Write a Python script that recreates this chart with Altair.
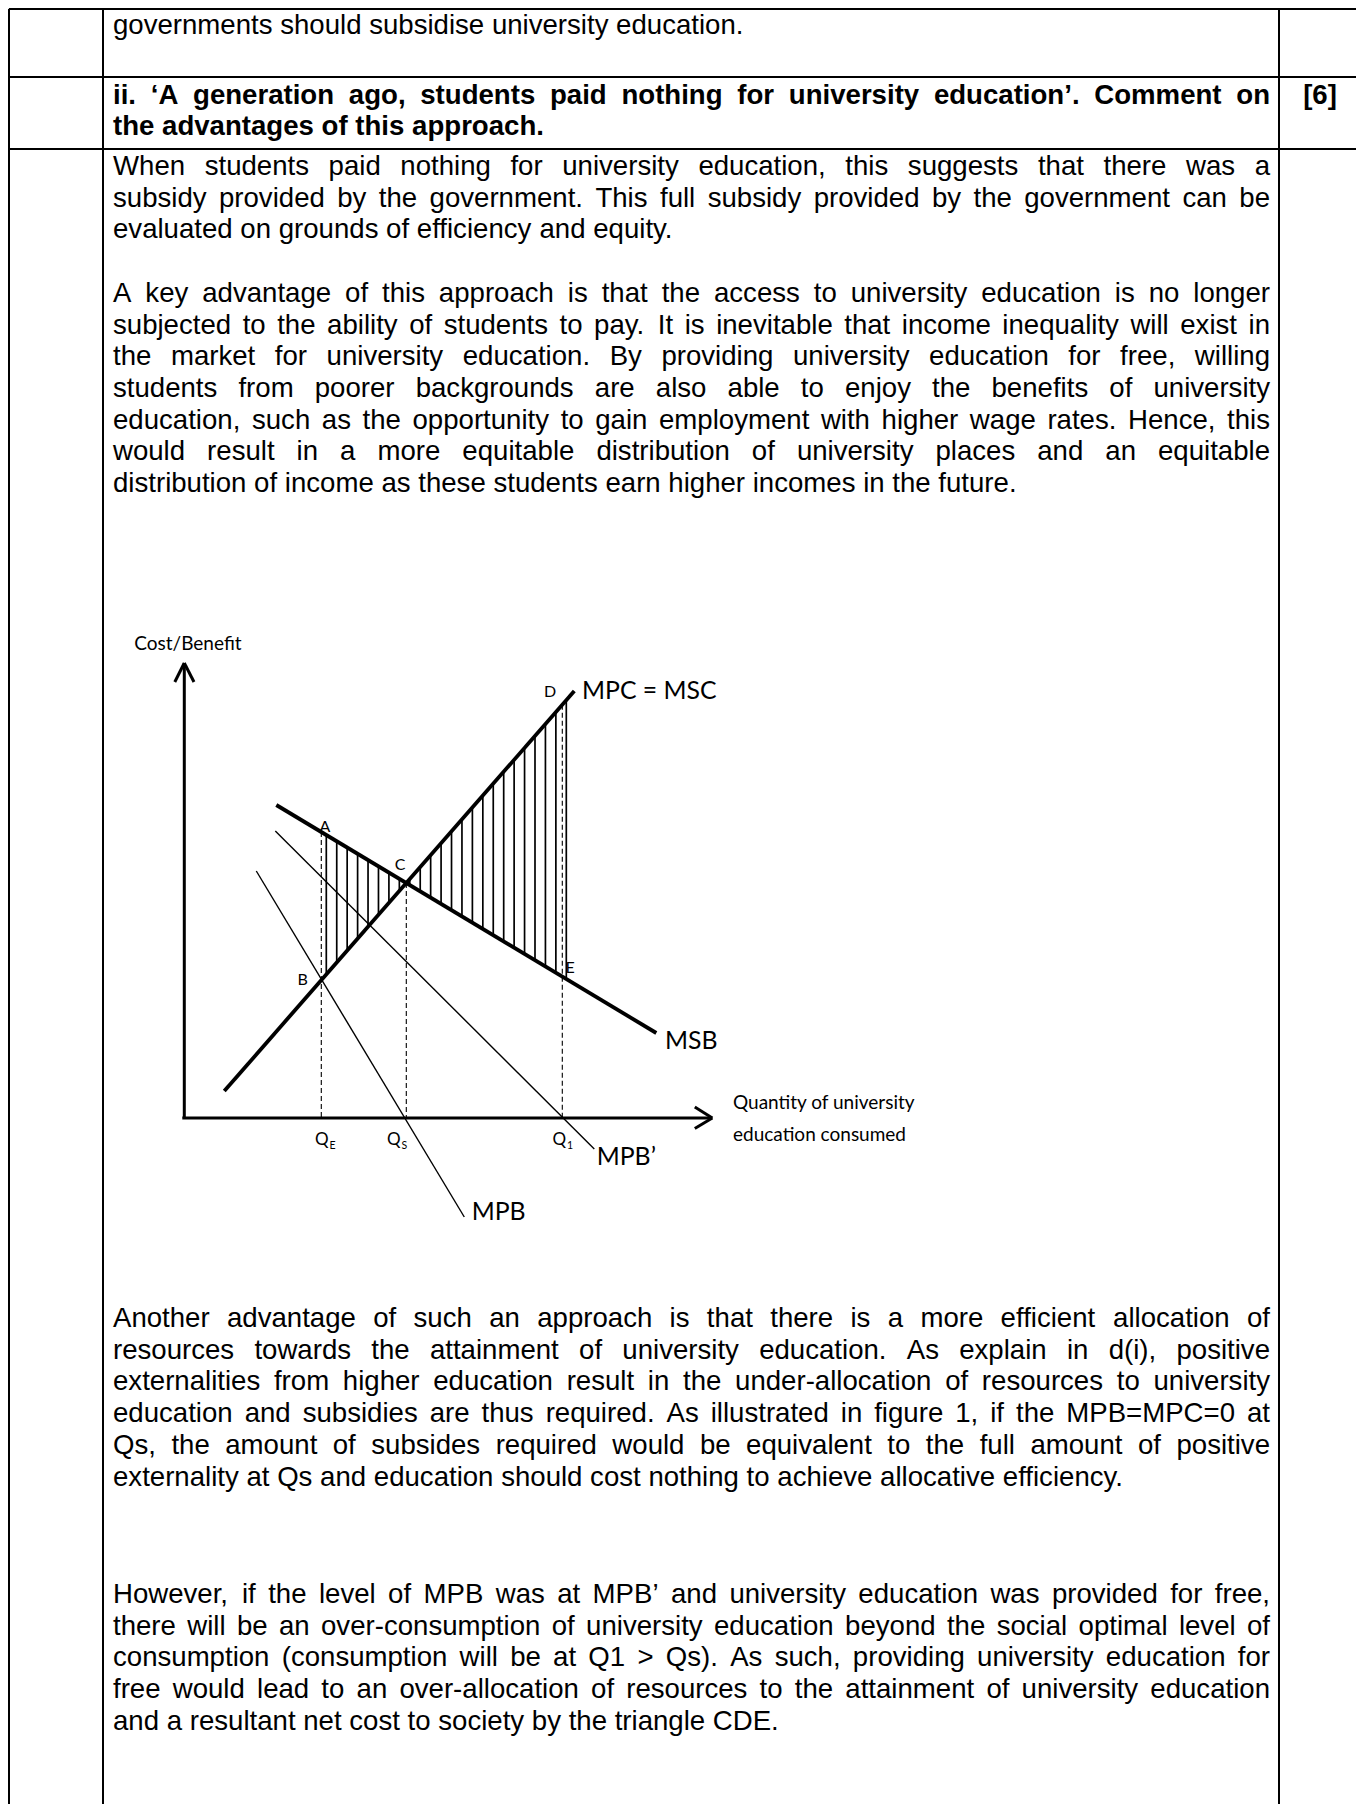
import altair as alt
import pandas as pd

# ---------------- document text ----------------
ROW1_LINES = ["governments should subsidise university education."]
QUESTION_LINES = [
    "ii. \u2018A generation ago, students paid nothing for university education\u2019. Comment on",
    "the advantages of this approach.",
]
MARK_LABEL = ["[6]"]
PARA1_LINES = [
    "When students paid nothing for university education, this suggests that there was a",
    "subsidy provided by the government. This full subsidy provided by the government can be",
    "evaluated on grounds of efficiency and equity.",
]
PARA2_LINES = [
    "A key advantage of this approach is that the access to university education is no longer",
    "subjected to the ability of students to pay. It is inevitable that income inequality will exist in",
    "the market for university education. By providing university education for free, willing",
    "students from poorer backgrounds are also able to enjoy the benefits of university",
    "education, such as the opportunity to gain employment with higher wage rates. Hence, this",
    "would result in a more equitable distribution of university places and an equitable",
    "distribution of income as these students earn higher incomes in the future.",
]
PARA3_LINES = [
    "Another advantage of such an approach is that there is a more efficient allocation of",
    "resources towards the attainment of university education. As explain in d(i), positive",
    "externalities from higher education result in the under-allocation of resources to university",
    "education and subsidies are thus required. As illustrated in figure 1, if the MPB=MPC=0 at",
    "Qs, the amount of subsides required would be equivalent to the full amount of positive",
    "externality at Qs and education should cost nothing to achieve allocative efficiency.",
]
PARA4_LINES = [
    "However, if the level of MPB was at MPB\u2019 and university education was provided for free,",
    "there will be an over-consumption of university education beyond the social optimal level of",
    "consumption (consumption will be at Q1 > Qs). As such, providing university education for",
    "free would lead to an over-allocation of resources to the attainment of university education",
    "and a resultant net cost to society by the triangle CDE.",
]

# ---------------- diagram values (1 unit = 10 px, origin at axes crossing) ----------------
CURVE_NAMES = ["MSB", "MPC", "MPB'", "MPB"]
CURVE_Q_START = [9.2, 4.0, 9.1, 7.2]
CURVE_P_START = [31.3, 2.7, 28.7, 24.7]
CURVE_Q_END = [47.2, 39.0, 41.0, 28.0]
CURVE_P_END = [8.5, 42.7, -3.1, -9.9]
Q_VALUES = [13.7, 22.2, 37.8]          # Q_E, Q_S, Q_1
AXIS_Q_END = 52.8
AXIS_P_END = 45.5

POINT_LABELS = ["A", "B", "C", "D", "E"]
POINT_LABEL_Q = [14.07, 11.84, 21.57, 36.57, 38.57]
POINT_LABEL_P = [29.1, 13.8, 25.3, 42.6, 15.0]

CURVE_LABELS = ["MPC = MSC", "MSB", "MPB", "MPB\u2019"]
CURVE_LABEL_Q = [39.77, 48.07, 28.74, 41.24]
CURVE_LABEL_P = [42.6, 7.6, -9.5, -4.0]

AXIS_LABELS = ["Cost/Benefit", "Quantity of university", "education consumed"]
AXIS_LABEL_Q = [-5.0, 54.87, 54.87]
AXIS_LABEL_P = [47.4, 1.5, -1.7]

Q_TICK_MAIN = ["Q", "Q", "Q"]
Q_TICK_SUB = ["E", "S", "1"]
Q_TICK_LABEL_Q = [13.07, 20.27, 36.82]

# ---------------- layout constants ----------------
OFF = 8
PAGE_W, PAGE_H = 1348, 1796
FS = 27.6
LH = 31.7

REG_W = {' ': 278, '!': 278, '"': 355, '#': 556, '$': 556, '%': 889, '&': 667, "'": 191,
         '(': 333, ')': 333, '*': 389, '+': 584, ',': 278, '-': 333, '.': 278, '/': 278,
         ':': 278, ';': 278, '<': 584, '=': 584, '>': 584, '?': 556, '@': 1015,
         'A': 667, 'B': 667, 'C': 722, 'D': 722, 'E': 667, 'F': 611, 'G': 778, 'H': 722,
         'I': 278, 'J': 500, 'K': 667, 'L': 556, 'M': 833, 'N': 722, 'O': 778, 'P': 667,
         'Q': 778, 'R': 722, 'S': 667, 'T': 611, 'U': 722, 'V': 667, 'W': 944, 'X': 667,
         'Y': 667, 'Z': 611, '[': 278, ']': 278,
         'a': 556, 'b': 556, 'c': 500, 'd': 556, 'e': 556, 'f': 278, 'g': 556, 'h': 556,
         'i': 222, 'j': 222, 'k': 500, 'l': 222, 'm': 833, 'n': 556, 'o': 556, 'p': 556,
         'q': 556, 'r': 333, 's': 500, 't': 278, 'u': 556, 'v': 500, 'w': 722, 'x': 500,
         'y': 500, 'z': 500, '\u2018': 222, '\u2019': 222}
for _d in "0123456789":
    REG_W[_d] = 556
BOLD_W = {' ': 278, ',': 278, '.': 278, '-': 333, "'": 238, '[': 333, ']': 333,
          'A': 722, 'B': 722, 'C': 722, 'D': 722, 'E': 667, 'I': 278, 'M': 833, 'P': 667,
          'a': 556, 'b': 611, 'c': 556, 'd': 611, 'e': 556, 'f': 333, 'g': 611, 'h': 611,
          'i': 278, 'j': 278, 'k': 556, 'l': 278, 'm': 889, 'n': 611, 'o': 611, 'p': 611,
          'q': 611, 'r': 389, 's': 556, 't': 333, 'u': 611, 'v': 556, 'w': 778, 'x': 556,
          'y': 556, 'z': 500, '\u2018': 278, '\u2019': 278}
for _d in "0123456789":
    BOLD_W[_d] = 556


def em_width(s, table):
    return sum(table.get(c, 556) for c in s) / 1000.0


def layout(lines, x0, x1, y0, table, fs=FS, lh=LH):
    rows = []
    sp = table[' '] / 1000.0 * fs
    for i, line in enumerate(lines):
        words = line.split(' ')
        widths = [em_width(w, table) * fs for w in words]
        last = i == len(lines) - 1
        if not last and len(words) > 1:
            gap = max((x1 - x0 - sum(widths)) / (len(words) - 1), 2.0)
        else:
            gap = sp
        x = x0
        for w, wd in zip(words, widths):
            rows.append({'x': x, 'y': y0 + i * lh, 't': w})
            x += wd + gap
    return rows


X_LEFT, X_RIGHT = 113, 1270

reg_rows = []
reg_rows += layout(ROW1_LINES, X_LEFT, X_RIGHT, 34, REG_W)
reg_rows += layout(PARA1_LINES, X_LEFT, X_RIGHT, 175, REG_W)
reg_rows += layout(PARA2_LINES, X_LEFT, X_RIGHT, 175 + 4 * LH, REG_W)
reg_rows += layout(PARA3_LINES, X_LEFT, X_RIGHT, 1327, REG_W)
reg_rows += layout(PARA4_LINES, X_LEFT, X_RIGHT, 1603, REG_W)
bold_rows = layout(QUESTION_LINES, X_LEFT, X_RIGHT, 103.5, BOLD_W)
mark_rows = [{'x': 1320, 'y': 103.5, 't': MARK_LABEL[0]}]

# ---------------- scales ----------------
xs = alt.Scale(domain=[OFF, OFF + PAGE_W], nice=False, zero=False)
ys = alt.Scale(domain=[OFF, OFF + PAGE_H], nice=False, zero=False, reverse=True)
PX0, PY0, UNIT = 184.3, 1118.0, 10.0
xd = alt.Scale(domain=[(OFF - PX0) / UNIT, (OFF + PAGE_W - PX0) / UNIT], nice=False, zero=False)
yd = alt.Scale(domain=[(PY0 - OFF - PAGE_H) / UNIT, (PY0 - OFF) / UNIT], nice=False, zero=False)


def seg(df, sx, sy, **mk):
    return alt.Chart(pd.DataFrame(df)).mark_rule(**mk).encode(
        x=alt.X('x:Q', scale=sx, axis=None), x2='x2:Q',
        y=alt.Y('y:Q', scale=sy, axis=None), y2='y2:Q')


def txt(df, sx, sy, **mk):
    return alt.Chart(pd.DataFrame(df)).mark_text(**mk).encode(
        x=alt.X('x:Q', scale=sx, axis=None),
        y=alt.Y('y:Q', scale=sy, axis=None),
        text='t:N')


layers = []

# table borders
BOTTOM = OFF + PAGE_H
border = [
    {'x': 9, 'x2': 1359, 'y': 9, 'y2': 9},
    {'x': 9, 'x2': 1359, 'y': 77, 'y2': 77},
    {'x': 9, 'x2': 1359, 'y': 149, 'y2': 149},
    {'x': 9, 'x2': 9, 'y': 9, 'y2': BOTTOM},
    {'x': 103, 'x2': 103, 'y': 9, 'y2': BOTTOM},
    {'x': 1279, 'x2': 1279, 'y': 9, 'y2': BOTTOM},
    {'x': 1359, 'x2': 1359, 'y': 9, 'y2': BOTTOM},
]
layers.append(seg(border, xs, ys, color='black', strokeWidth=2))

layers.append(txt(reg_rows, xs, ys, align='left', baseline='alphabetic',
                  font='Liberation Sans', fontSize=FS, color='black'))
layers.append(txt(bold_rows, xs, ys, align='left', baseline='alphabetic',
                  font='Liberation Sans', fontSize=FS, fontWeight='bold', color='black'))
layers.append(txt(mark_rows, xs, ys, align='center', baseline='alphabetic',
                  font='Liberation Sans', fontSize=FS, fontWeight='bold', color='black'))

# ---------------- diagram ----------------
def curve_p(i, q):
    q0, p0, q1, p1 = CURVE_Q_START[i], CURVE_P_START[i], CURVE_Q_END[i], CURVE_P_END[i]
    return p0 + (q - q0) * (p1 - p0) / (q1 - q0)


def slope(i):
    return (CURVE_P_END[i] - CURVE_P_START[i]) / (CURVE_Q_END[i] - CURVE_Q_START[i])


MSB, MPC, MPBP, MPB = 0, 1, 2, 3
qc = (curve_p(MPC, 0) - curve_p(MSB, 0)) / (slope(MSB) - slope(MPC))
pc = curve_p(MSB, qc)
QE, QS, Q1 = Q_VALUES

# hatch (vertical lines filling ACB and CDE)
HATCH_N = 24
h_start, h_end = QE + 0.5, Q1 + 0.4
hatch = []
for k in range(HATCH_N):
    q = h_start + k * (h_end - h_start) / (HATCH_N - 1)
    a, b = curve_p(MSB, q), curve_p(MPC, q)
    hatch.append({'x': q, 'x2': q, 'y': min(a, b), 'y2': max(a, b)})
layers.append(seg(hatch, xd, yd, color='black', strokeWidth=1.7))

# dashed guides
dashed = [
    {'x': QE, 'x2': QE, 'y': curve_p(MSB, QE), 'y2': 0},
    {'x': QS, 'x2': QS, 'y': pc, 'y2': 0},
    {'x': Q1, 'x2': Q1, 'y': curve_p(MPC, Q1), 'y2': 0},
]
layers.append(seg(dashed, xd, yd, color='black', strokeWidth=1.1, strokeDash=[5, 3]))

thin = [{'x': CURVE_Q_START[i], 'x2': CURVE_Q_END[i], 'y': CURVE_P_START[i], 'y2': CURVE_P_END[i]}
        for i in (MPBP, MPB)]
layers.append(seg(thin, xd, yd, color='black', strokeWidth=1.4))

thick = [{'x': CURVE_Q_START[i], 'x2': CURVE_Q_END[i], 'y': CURVE_P_START[i], 'y2': CURVE_P_END[i]}
         for i in (MSB, MPC)]
layers.append(seg(thick, xd, yd, color='black', strokeWidth=3.8))

axes = [
    {'x': 0, 'x2': 0, 'y': 0, 'y2': AXIS_P_END},
    {'x': -0.2, 'x2': AXIS_Q_END, 'y': 0, 'y2': 0},
    {'x': -0.95, 'x2': 0, 'y': AXIS_P_END - 1.9, 'y2': AXIS_P_END},
    {'x': 0.97, 'x2': 0, 'y': AXIS_P_END - 1.9, 'y2': AXIS_P_END},
    {'x': AXIS_Q_END - 1.75, 'x2': AXIS_Q_END, 'y': 1.1, 'y2': 0},
    {'x': AXIS_Q_END - 1.75, 'x2': AXIS_Q_END, 'y': -1.05, 'y2': 0},
]
layers.append(seg(axes, xd, yd, color='black', strokeWidth=3))

pt = [{'x': q, 'y': p, 't': t} for t, q, p in zip(POINT_LABELS, POINT_LABEL_Q, POINT_LABEL_P)]
layers.append(txt(pt, xd, yd, align='center', baseline='middle', font='Lato', fontSize=16, color='black'))
cl = [{'x': q, 'y': p, 't': t} for t, q, p in zip(CURVE_LABELS, CURVE_LABEL_Q, CURVE_LABEL_P)]
layers.append(txt(cl, xd, yd, align='left', baseline='middle', font='Lato', fontSize=24.8, color='black'))
al = [{'x': q, 'y': p, 't': t} for t, q, p in zip(AXIS_LABELS, AXIS_LABEL_Q, AXIS_LABEL_P)]
layers.append(txt(al, xd, yd, align='left', baseline='middle', font='Lato', fontSize=19, color='black'))
qm = [{'x': q, 'y': -2.2, 't': t} for t, q in zip(Q_TICK_MAIN, Q_TICK_LABEL_Q)]
layers.append(txt(qm, xd, yd, align='left', baseline='middle', font='Lato', fontSize=17, color='black'))
qs = [{'x': q + 1.45, 'y': -2.75, 't': t} for t, q in zip(Q_TICK_SUB, Q_TICK_LABEL_Q)]
layers.append(txt(qs, xd, yd, align='left', baseline='middle', font='Lato', fontSize=10.5, color='black'))

chart = alt.layer(*layers).resolve_scale(x='independent', y='independent').properties(
    width=PAGE_W, height=PAGE_H, padding=0, autosize=alt.AutoSizeParams(type='none')
).configure_view(stroke=None).configure(background='white')

chart.save("out.html", embed_options={"renderer": "svg", "actions": False})
